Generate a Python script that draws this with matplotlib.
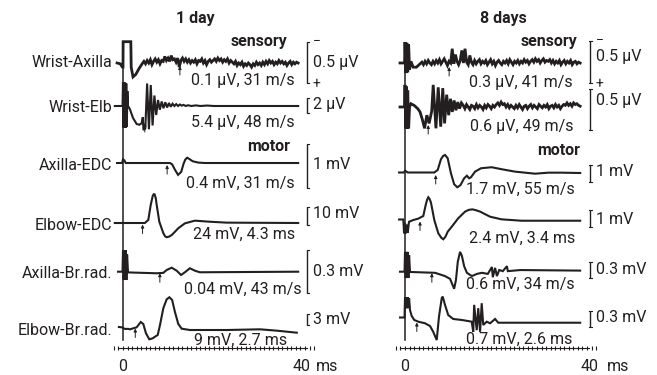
import numpy as np
import matplotlib
matplotlib.use("Agg")
import matplotlib.pyplot as plt
from matplotlib.ticker import MultipleLocator, FixedLocator, NullFormatter

plt.rcParams['font.family'] = ['Roboto', 'DejaVu Sans']
plt.rcParams['font.size'] = 11.5
INK = '#231f20'
FS = 11.5

# ---------------------------------------------------------------- data
panel_titles = ['1 day', '8 days']
trace_names = ['Wrist-Axilla', 'Wrist-Elb', 'Axilla-EDC', 'Elbow-EDC',
               'Axilla-Br.rad.', 'Elbow-Br.rad.']

# ---- 1 day ----
# Wrist-Axilla sensory (µV)
d1_wa_head_t = [-1.3, -0.6, -0.15, 0.0, 0.03, 0.9, 1.72, 1.8, 2.2, 2.8, 3.5, 4.2]
d1_wa_head_v = [0.0, -0.01, -0.05, -0.05, 0.26, 0.26, 0.26, -0.05, -0.17, -0.14, -0.07, -0.01]
d1_wa_noise = [0.02, -0.01, 0.03, 0.00, 0.04, -0.02, 0.02, 0.05, 0.01, 0.04, -0.01, 0.03, 0.02,
               0.08, 0.03, 0.06, 0.02, 0.09, 0.04, 0.05, 0.01, 0.06,
               -0.05,
               0.03, 0.06, 0.02, 0.05, 0.01, 0.04, 0.00, 0.03,
               0.01, 0.04, -0.01, 0.03, 0.02, 0.05, 0.00, 0.03, -0.02, 0.02, 0.04, 0.01, 0.03,
               0.05, 0.02, 0.06, 0.03, 0.05, 0.01, 0.04, 0.02, 0.05, 0.00, 0.03, 0.01,
               -0.01, 0.02, -0.03, 0.00, -0.02, 0.01, -0.04, -0.01, -0.03, 0.00, -0.02, -0.05,
               -0.01, -0.03, 0.01, -0.02, 0.00,
               -0.03, 0.01, -0.02, 0.02, -0.01, 0.03, 0.00, 0.02, -0.02, 0.01, -0.01, 0.03, 0.00, 0.02,
               -0.01, 0.01, -0.03, 0.00, 0.02, -0.02, 0.01, -0.01, 0.01, 0.00]
d1_wa_noise_span = (4.6, 38.5)

# Wrist-Elb sensory (µV)
d1_we_t = [-1.8, -0.1, 0.0, 0.12, 0.24, 0.36, 0.48, 0.6, 0.72, 0.84, 0.96, 1.1, 1.5, 2.2,
           3.0, 3.6, 4.1, 4.35, 4.5, 4.9, 5.3, 5.7, 6.1, 6.5, 6.9, 7.3, 7.7, 8.1, 8.5, 8.9,
           9.3, 9.7, 10.1, 10.5, 10.9, 11.3, 11.7, 12.1, 12.5, 12.9, 13.3, 13.8, 14.3, 15.0,
           16.0, 17.0, 18.5, 20.0, 38.5]
d1_we_v = [0.0, 0.0, 3.2, -2.9, 3.2, -2.9, 3.1, -2.9, 3.0, -2.8, 2.0, 0.0, -0.4, -1.6,
           -2.4, -2.5, -2.3, -1.5, -3.2, -3.0, 3.0, -3.1, 2.8, -2.6, 1.4, -1.2, 0.8, -0.5, 0.6, -0.3,
           0.5, -0.2, 0.4, -0.1, 0.3, 0.0, 0.25, 0.0, 0.2, 0.05, 0.15, 0.0, 0.1, 0.0,
           0.08, 0.0, 0.06, 0.0, 0.0]

# Axilla-EDC motor (mV)
d1_aedc_t = [-1.3, -0.2, 0.0, 0.3, 0.6, 10.3, 10.8, 11.4, 12.1, 12.8, 13.3, 13.7, 14.1,
             14.6, 15.3, 16.5, 18.0, 38.5]
d1_aedc_v = [0.0, 0.0, 0.08, 0.06, 0.0, 0.0, -0.03, -0.15, -0.27, -0.2, -0.02, 0.08, 0.12,
             0.09, 0.04, 0.01, 0.0, 0.0]

# Elbow-EDC motor (mV)
d1_eedc_t = [-1.8, 4.8, 5.56, 6.09, 6.53, 6.75, 6.95, 7.2, 7.41, 7.98, 8.86, 9.25, 9.6, 10.1,
             10.7, 11.4, 12.15, 13.6, 15.8, 19.1, 22.8, 38.5]
d1_eedc_v = [0.0, 0.0, 1.7, 10.0, 15.0, 16.0, 15.9, 13.8, 10.0, 0.7, -5.6, -7.4, -7.9, -7.6,
             -6.7, -4.9, -2.9, -0.2, 1.3, 0.7, 0.2, 0.0]

# Axilla-Br.rad. motor (mV)
d1_abr_t = [-1.1, -0.1, 0.0, 0.15, 0.3, 0.45, 0.6, 0.75, 0.9, 1.1, 7.4, 8.86, 9.6, 10.7,
            11.8, 12.75, 13.6, 14.7, 15.8, 16.9, 38.5]
d1_abr_v = [0.0, 0.0, 0.15, -0.058, 0.15, -0.058, 0.15, -0.058, 0.12, -0.005, -0.011, -0.008,
            0.012, 0.028, 0.007, -0.023, -0.004, 0.024, 0.007, -0.004, 0.0]

# Elbow-Br.rad. motor (mV)
d1_ebr_t = [-0.9, -0.29, 0.44, 1.1, 1.54, 3.0, 3.9, 4.46, 5.05, 5.78, 6.53, 7.03, 7.63, 8.13,
            8.86, 9.6, 10.2, 10.8, 11.4, 12.15, 12.9, 14.7, 22.8, 30.1, 33.8, 38.2]
d1_ebr_v = [0.0, -0.08, -0.54, -0.5, -0.63, -0.08, 1.36, 0.82, -1.72, -3.35, -3.08, -2.64, -2.18,
            0.54, 5.1, 7.55, 8.1, 7.36, 4.17, 0.82, -0.46, -0.82, -0.82, -0.63, -1.0, -1.55]

# ---- 8 days ----
d8_wa_head_t = [-1.1, -0.1, 0.0, 0.2, 0.4, 0.6, 0.8, 1.0, 1.3, 1.8, 2.5, 3.3]
d8_wa_head_v = [0.0, 0.0, 0.25, -0.12, 0.24, -0.11, 0.22, -0.08, 0.02, -0.05, -0.05, -0.01]
d8_wa_noise = [0.01, -0.02, 0.02, -0.01, 0.03, 0.00, -0.02, 0.02, -0.01, 0.03,
               0.00, 0.04, -0.01, 0.02, 0.05, 0.01, -0.03, 0.02, 0.00, 0.17,
               -0.01, 0.10, 0.02, -0.02, 0.03, 0.15, 0.00, 0.17, 0.01, -0.02,
               0.09, 0.01, -0.02, 0.03, -0.01, 0.02, 0.04, -0.01, 0.02, 0.00,
               0.03, -0.02, 0.01, 0.04, -0.01, 0.02, -0.03, 0.01, 0.03, 0.00,
               -0.02, 0.02, 0.00, 0.03, -0.01, 0.04, 0.01, -0.02, 0.02, 0.00,
               0.03, -0.01, 0.02, 0.00, 0.04, 0.01, 0.03, -0.01, 0.02, 0.04,
               0.01, 0.05, 0.02, 0.04, 0.00, 0.03, 0.05, 0.01, 0.03, 0.02,
               0.04, 0.00, 0.03, -0.01, 0.02, 0.00, 0.03, -0.02, 0.01, 0.03,
               -0.01, 0.02, 0.00, 0.03, -0.02, 0.01, 0.02, -0.01, 0.01, 0.00]
d8_wa_noise_span = (3.7, 38.5)

d8_we_head_t = [-1.1, -0.1, 0.0, 0.15, 0.3, 0.45, 0.6, 0.8, 1.0, 1.3, 2.0, 2.8, 3.3, 3.8, 4.3,
                4.8, 5.3, 5.87, 6.2, 6.8, 7.3, 7.85, 8.3, 8.7, 9.16, 9.6, 10.0, 10.4, 10.8,
                11.2, 11.6, 12.0, 12.4]
d8_we_head_v = [0.0, 0.0, 0.27, -0.26, 0.25, -0.26, 0.2, -0.26, 0.0, 0.04, 0.02, -0.02, -0.06,
                -0.15, -0.26, -0.1, -0.2, -0.05, 0.27, -0.26, 0.24, -0.24, 0.23, -0.2, 0.15,
                -0.1, 0.1, -0.06, 0.08, -0.04, 0.06, -0.02, 0.05]
d8_we_noise = [0.02, -0.02, 0.03, 0.00, -0.03, 0.02, 0.01, -0.02, 0.03, -0.01,
               0.02, 0.00, -0.03, 0.02, -0.01, 0.03, 0.01, -0.02, 0.02, 0.00,
               0.03, 0.05, 0.02, 0.06, 0.03, 0.04, 0.00, 0.03, -0.01, 0.02,
               0.00, -0.02, 0.02, -0.01, 0.03, 0.00, -0.03, 0.01, 0.02, -0.02,
               0.01, 0.03, -0.01, 0.02, 0.00, -0.02, 0.03, 0.01, -0.01, 0.02,
               0.00, 0.03, -0.02, 0.01, 0.02, -0.01, 0.03, 0.00, 0.02, -0.02,
               0.01, 0.03, 0.02, 0.05, 0.02, 0.04, 0.01, 0.05, 0.03, 0.04,
               0.02, 0.01]
d8_we_noise_span = (12.8, 38.5)

d8_aedc_t = [-1.3, -0.2, 0.0, 0.3, 0.6, 6.44, 7.19, 7.9, 8.4, 8.8, 9.38, 10.1, 10.8, 11.5,
             12.2, 13.0, 13.6, 14.1, 14.5, 15.4, 16.7, 19.05, 21.3, 24.2, 28.6, 31.5, 34.4, 38.5]
d8_aedc_v = [0.0, 0.0, 0.1, 0.06, 0.0, 0.0, 0.15, 0.78, 0.98, 1.03, 0.84, -0.05, -0.69, -0.87,
             -0.74, -0.34, -0.19, -0.34, -0.28, 0.05, 0.25, 0.31, 0.19, 0.05, -0.07, -0.01,
             -0.01, -0.03]

d8_eedc_t = [-1.3, -0.37, -0.2, 0.0, 0.2, 0.4, 0.6, 0.88, 1.82, 2.92, 4.02, 4.55, 4.85, 5.12,
             5.4, 5.71, 6.44, 7.32, 8.0, 8.42, 8.9, 9.38, 10.4, 11.7, 13.2, 14.0, 14.8, 15.6,
             16.5, 18.7, 21.2, 25.6, 38.5]
d8_eedc_v = [0.0, 0.0, -0.79, -0.2, -0.79, -0.3, -0.75, -0.13, -0.03, 0.05, 0.2, 0.83, 1.12,
             1.27, 1.18, 0.96, -0.03, -0.79, -1.05, -1.13, -0.98, -0.7, -0.37, 0.07, 0.45,
             0.55, 0.58, 0.53, 0.45, 0.16, 0.01, -0.07, -0.07]

d8_abr_t = [-1.1, -0.1, 0.0, 0.15, 0.3, 0.45, 0.6, 0.75, 0.9, 1.1, 6.6, 8.8, 9.9, 10.8, 11.2,
            11.6, 12.1, 12.5, 13.0, 13.6, 14.7, 15.8, 16.9, 18.2, 19.1, 19.3, 19.8, 20.2,
            20.7, 21.5, 22.4, 22.6, 25.3, 38.5]
d8_abr_v = [0.0, 0.0, 0.36, -0.115, 0.36, -0.115, 0.36, -0.115, 0.3, -0.005, -0.02, -0.08,
            -0.13, -0.31, -0.15, 0.18, 0.36, 0.29, 0.1, -0.02, -0.08, -0.04, -0.02, -0.04,
            0.085, -0.1, 0.07, -0.08, 0.03, 0.01, 0.1, 0.01, 0.03, 0.02]

d8_ebr_t = [-1.1, -0.1, 0.0, 0.15, 0.3, 0.45, 0.6, 0.75, 0.9, 1.1, 1.47, 2.04, 2.92, 4.4, 5.5,
            6.2, 6.97, 7.47, 8.07, 8.29, 8.79, 9.5, 10.6, 12.5, 14.66, 15.0, 15.2, 15.76,
            16.1, 16.5, 16.86, 17.2, 17.96, 18.7, 19.8, 20.5, 38.5]
d8_ebr_v = [0.0, 0.0, 0.37, 0.17, 0.37, 0.17, 0.37, 0.17, 0.35, 0.136, 0.027, -0.045, -0.076,
            -0.105, -0.155, -0.26, -0.41, 0.015, 0.35, 0.38, 0.23, 0.045, -0.027, -0.045,
            -0.076, -0.26, 0.23, -0.23, 0.17, -0.26, 0.26, -0.136, -0.076, -0.105, -0.027,
            -0.095, -0.095]

# onset arrows (ms)
d1_arrow_t = [12.5, 4.8, 9.7, 4.3, 8.1, 2.7]
d8_arrow_t = [9.7, 5.1, 6.75, 3.3, 5.9, 2.6]

# scale bars
d1_scale_value = [0.5, 2, 1, 10, 0.3, 3]
d8_scale_value = [0.5, 0.5, 1, 1, 0.3, 0.3]
d1_scale_unit = ['µV', 'µV', 'mV', 'mV', 'mV', 'mV']
d8_scale_unit = ['µV', 'µV', 'mV', 'mV', 'mV', 'mV']

# amplitude / velocity / latency notes
d1_notes = ['0.1 µV, 31 m/s', '5.4 µV, 48 m/s', '0.4 mV, 31 m/s', '24 mV, 4.3 ms',
            '0.04 mV, 43 m/s', '9 mV, 2.7 ms']
d8_notes = ['0.3 µV, 41 m/s', '0.6 µV, 49 m/s', '1.7 mV, 55 m/s', '2.4 mV, 3.4 ms',
            '0.6 mV, 34 m/s', '0.7 mV, 2.6 ms']

time_ticks = [0, 40]

# ---------------------------------------------------------------- layout
W, H = 657, 375
fig = plt.figure(figsize=(W / 100, H / 100), dpi=100)
PX_PER_MS = 4.55

panels = [
    dict(x0=123, title_x=195,
         base=[63, 106, 163, 223, 271.7, 327],
         gain=[82, 7.5, 44, 1.8, 143, 3.67],
         bar_x=307.5, bar_bottom=[20, 7, 25, 2, 21.3, -2],
         bar_label_x=313, bar_label_y=[62, 105, 165, 214, 272, 320],
         arrow_gap=[3, 17, 2, 1.5, 1.5, 1.5],
         note_right=[295, 295, 295, 295, 302, 287],
         note_base=[85, 127, 188.3, 239, 294, 345],
         sensory=(287, 46), motor=(290, 150.7), tick_lab_x=[123, 302], ms_x=327),
    dict(x0=405, title_x=503,
         base=[63, 107, 172.5, 219.5, 271.7, 317.5],
         gain=[84, 82, 17, 17.5, 55, 55],
         bar_x=590, bar_bottom=[20, 23, 9.5, 7.5, 6.3, 9.5],
         bar_label_x=596, bar_label_y=[57, 100, 172, 219, 270, 318],
         arrow_gap=[4, 18, 2.5, 2, 1.5, 5],
         note_right=[573, 573, 575, 575, 575, 572],
         note_base=[87.3, 131, 194, 243, 289, 344],
         sensory=(577, 46), motor=(580, 155), tick_lab_x=[405, 589.5], ms_x=618),
]

traces = [
    [
        (d1_wa_head_t + list(np.linspace(*d1_wa_noise_span, len(d1_wa_noise))),
         d1_wa_head_v + d1_wa_noise),
        (d1_we_t, d1_we_v),
        (d1_aedc_t, d1_aedc_v),
        (d1_eedc_t, d1_eedc_v),
        (d1_abr_t, d1_abr_v),
        (d1_ebr_t, d1_ebr_v),
    ],
    [
        (d8_wa_head_t + list(np.linspace(*d8_wa_noise_span, len(d8_wa_noise))),
         d8_wa_head_v + d8_wa_noise),
        (d8_we_head_t + list(np.linspace(*d8_we_noise_span, len(d8_we_noise))),
         d8_we_head_v + d8_we_noise),
        (d8_aedc_t, d8_aedc_v),
        (d8_eedc_t, d8_eedc_v),
        (d8_abr_t, d8_abr_v),
        (d8_ebr_t, d8_ebr_v),
    ],
]
noisy = [[True, False, False, False, False, False], [True, True, False, False, False, False]]
arrows = [d1_arrow_t, d8_arrow_t]
scale_vals = [d1_scale_value, d8_scale_value]
scale_units = [d1_scale_unit, d8_scale_unit]
notes = [d1_notes, d8_notes]

T_LO, T_HI = -2.0, 42.0


def ftxt(x, y, s, **kw):
    kw.setdefault('color', INK)
    kw.setdefault('fontsize', FS)
    fig.text(x / W, 1 - y / H, s, **kw)


for p, panel in enumerate(panels):
    x0 = panel['x0']
    left = x0 + T_LO * PX_PER_MS
    width = (T_HI - T_LO) * PX_PER_MS
    bar_t = (panel['bar_x'] - x0) / PX_PER_MS
    tick_w = 1.6 / PX_PER_MS

    # time axis + stimulus line
    top_px, axis_px = 42, 348
    axt = fig.add_axes([left / W, 1 - axis_px / H, width / W, (axis_px - top_px) / H])
    axt.patch.set_alpha(0)
    axt.set_xlim(T_LO, T_HI)
    axt.set_ylim(0, 1)
    for s in ['top', 'left', 'right']:
        axt.spines[s].set_visible(False)
    axt.spines['bottom'].set_bounds(-1.2, 40.5)
    axt.spines['bottom'].set_linewidth(0.8)
    axt.spines['bottom'].set_color(INK)
    axt.set_yticks([])
    axt.xaxis.set_major_locator(FixedLocator(time_ticks))
    axt.xaxis.set_minor_locator(MultipleLocator(1))
    axt.xaxis.set_major_formatter(NullFormatter())
    axt.tick_params(axis='x', which='both', direction='inout', length=3.5, width=0.8,
                    color=INK)
    axt.axvline(0, ymin=(axis_px - 340) / (axis_px - top_px), ymax=1, color=INK, lw=1.1)
    for tv, lx in zip(time_ticks, panel['tick_lab_x']):
        ftxt(lx, 370.7, str(tv), ha='center', va='baseline')
    ftxt(panel['ms_x'], 370.7, 'ms', ha='center', va='baseline')

    # titles and section labels
    ftxt(panel['title_x'], 22.7, panel_titles[p], ha='center', va='baseline',
         fontweight='bold')
    ftxt(panel['sensory'][0], panel['sensory'][1], 'sensory', ha='right', va='baseline',
         fontweight='bold')
    ftxt(panel['motor'][0], panel['motor'][1], 'motor', ha='right', va='baseline',
         fontweight='bold')

    for i, (tt, vv) in enumerate(traces[p]):
        base = panel['base'][i]
        gain = panel['gain'][i]
        half = 60.0
        ax = fig.add_axes([left / W, 1 - (base + half) / H, width / W, 2 * half / H])
        ax.set_xlim(T_LO, T_HI)
        ax.set_ylim(-half / gain, half / gain)
        ax.set_axis_off()
        ax.patch.set_alpha(0)

        lw = 2.0 if noisy[p][i] else 1.5
        ax.plot(tt, vv, color=INK, lw=lw, solid_joinstyle='miter', clip_on=False)

        # onset arrow
        tip = -panel['arrow_gap'][i] / gain
        ax.annotate('', xy=(arrows[p][i], tip), xytext=(0, -6.5), textcoords='offset points',
                    arrowprops=dict(arrowstyle='-|>', lw=0.7, color=INK, mutation_scale=4.5,
                                    shrinkA=0, shrinkB=0), annotation_clip=False)

        # scale bar
        sv = scale_vals[p][i]
        b0 = -panel['bar_bottom'][i] / gain
        b1 = b0 + sv
        ax.plot([bar_t, bar_t], [b0, b1], color=INK, lw=1.0, clip_on=False,
                solid_capstyle='butt')
        for yb in (b0, b1):
            ax.plot([bar_t - tick_w / 2, bar_t + tick_w], [yb, yb], color=INK, lw=0.8,
                    clip_on=False)
        ftxt(panel['bar_label_x'], panel['bar_label_y'][i],
             f'{sv:g} {scale_units[p][i]}', ha='left', va='center')
        if i == 0:
            top_y = base - b1 * gain
            bot_y = base - b0 * gain
            ftxt(panel['bar_label_x'] - 0.5, top_y - 1, '\u2212', ha='left', va='center',
                 fontsize=10)
            ftxt(panel['bar_label_x'] - 0.5, bot_y + 1, '+', ha='left', va='center',
                 fontsize=10)

        # note
        ftxt(panel['note_right'][i], panel['note_base'][i], notes[p][i], ha='right',
             va='baseline')

        # trace name (left panel only)
        if p == 0:
            name_base = [66.7, 111.7, 170, 230, 278.3, 335][i]
            ftxt(112, name_base, trace_names[i], ha='right', va='baseline')

fig.savefig('out.png', dpi=100)
